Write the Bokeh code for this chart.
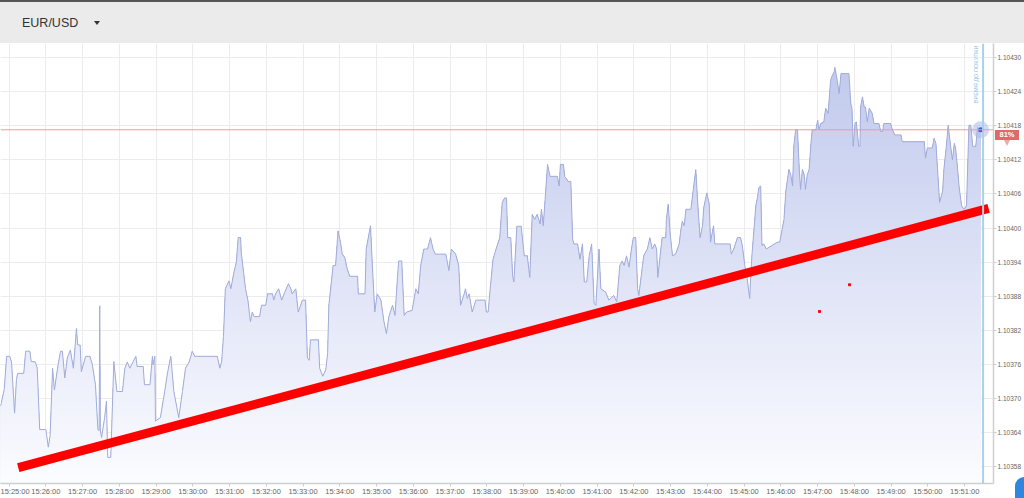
import numpy as np
from math import pi
from bokeh.plotting import figure
from bokeh.layouts import column
from bokeh.models import (Div, FixedTicker, NumeralTickFormatter, Span, Label,
                          GlobalInlineStyleSheet, Range1d)
from bokeh.embed import file_html
from bokeh.resources import INLINE

SYMBOL = "EUR/USD"
PURCHASE_TEXT = "ВРЕМЯ ДО ПОКУПКИ"
PAYOUT = "81%"

# seconds since 15:25:00
TIMES = [-14, -8, -4, 1, 4, 9, 12, 14, 24, 27, 34, 36, 43, 46, 50, 60, 64, 67, 71, 74,
         80, 84, 87, 91, 95, 100, 105, 110, 112, 116, 118, 125, 132, 136, 141, 145, 147, 148, 149, 151,
         156, 159, 161, 166, 171, 176, 185, 189, 193, 197, 207, 209, 219, 221, 230, 234, 235, 238, 239, 247,
         254, 259, 264, 269, 277, 283, 288, 294, 299, 303, 340, 344, 347, 350, 353, 359, 362, 367, 371, 374,
         378, 379, 386, 390, 394, 397, 400, 409, 412, 419, 422, 430, 432, 435, 440, 445, 449, 456, 460, 462,
         468, 472, 479, 484, 487, 490, 492, 505, 507, 512, 517, 520, 522, 529, 533, 537, 541, 544, 548, 552,
         556, 569, 570, 581, 583, 590, 593, 597, 601, 607, 612, 616, 620, 626, 630, 634, 636, 641, 645, 649,
         658, 664, 668, 672, 677, 683, 688, 692, 696, 713, 718, 722, 729, 734, 737, 743, 745, 748, 751, 756,
         762, 777, 779, 782, 786, 790, 795, 801, 805, 809, 812, 814, 819, 822, 824, 829, 836, 841, 846, 850,
         854, 858, 862, 867, 869, 872, 875, 879, 883, 895, 898, 900, 905, 907, 913, 917, 920, 922, 928, 932,
         936, 939, 943, 947, 951, 955, 958, 960, 963, 966, 974, 979, 987, 992, 997, 1001, 1004, 1008, 1012, 1016,
         1019, 1023, 1026, 1028, 1034, 1036, 1042, 1046, 1050, 1054, 1057, 1059, 1064, 1066, 1072, 1073, 1076, 1079, 1083, 1088,
         1094, 1096, 1099, 1102, 1105, 1113, 1117, 1121, 1125, 1128, 1132, 1134, 1139, 1143, 1145, 1150, 1152, 1177, 1179, 1183,
         1189, 1194, 1197, 1201, 1205, 1209, 1211, 1213, 1219, 1222, 1224, 1227, 1229, 1232, 1236, 1254, 1258, 1262, 1265, 1268,
         1271, 1273, 1276, 1279, 1281, 1284, 1287, 1290, 1292, 1295, 1298, 1300, 1303, 1306, 1309, 1311, 1317, 1320, 1322, 1325,
         1330, 1333, 1337, 1341, 1344, 1347, 1348, 1352, 1355, 1358, 1371, 1374, 1376, 1378, 1381, 1383, 1387, 1389, 1390, 1393,
         1396, 1398, 1401, 1404, 1409, 1412, 1420, 1423, 1426, 1428, 1439, 1442, 1446, 1456, 1458, 1494, 1496, 1499, 1507, 1510,
         1513, 1515, 1519, 1524, 1526, 1530, 1533, 1537, 1540, 1543, 1545, 1548, 1551, 1555, 1559, 1563, 1566, 1567, 1570, 1573,
         1578, 1581, 1583, 1586]

PRICES = [1.103686, 1.103715, 1.103774, 1.103774, 1.103764, 1.103674, 1.103733, 1.103744, 1.103744, 1.103783,
          1.103783, 1.103765, 1.103764, 1.103753, 1.103645, 1.103645, 1.103614, 1.103634, 1.103753, 1.103715,
          1.103759, 1.103783, 1.103783, 1.103736, 1.103771, 1.103785, 1.103753, 1.103823, 1.103794, 1.103794,
          1.103747, 1.103774, 1.103774, 1.103759, 1.103724, 1.103645, 1.103643, 1.103863, 1.103643, 1.103631,
          1.103666, 1.103695, 1.103596, 1.103596, 1.103765, 1.103712, 1.103712, 1.103753, 1.103764, 1.103753,
          1.103774, 1.103756, 1.103756, 1.103724, 1.103724, 1.103774, 1.103759, 1.103774, 1.103660, 1.103666,
          1.103712, 1.103747, 1.103774, 1.103712, 1.103666, 1.103712, 1.103753, 1.103764, 1.103783, 1.103774,
          1.103774, 1.103753, 1.103765, 1.103809, 1.103893, 1.103907, 1.103893, 1.103922, 1.103940, 1.103983,
          1.103983, 1.103957, 1.103893, 1.103872, 1.103835, 1.103852, 1.103844, 1.103844, 1.103864, 1.103864,
          1.103884, 1.103884, 1.103873, 1.103884, 1.103893, 1.103873, 1.103884, 1.103902, 1.103893, 1.103884,
          1.103893, 1.103852, 1.103873, 1.103873, 1.103771, 1.103767, 1.103803, 1.103803, 1.103753, 1.103739,
          1.103750, 1.103779, 1.103864, 1.103934, 1.103934, 1.103995, 1.103975, 1.103954, 1.103948, 1.103928,
          1.103915, 1.103915, 1.103884, 1.103884, 1.103963, 1.104004, 1.103934, 1.103852, 1.103884, 1.103873,
          1.103835, 1.103814, 1.103844, 1.103864, 1.103846, 1.103913, 1.103942, 1.103942, 1.103846, 1.103852,
          1.103855, 1.103893, 1.103884, 1.103934, 1.103963, 1.103963, 1.103983, 1.103963, 1.103954, 1.103954,
          1.103925, 1.103963, 1.103954, 1.103934, 1.103864, 1.103884, 1.103893, 1.103876, 1.103884, 1.103852,
          1.103873, 1.103873, 1.103852, 1.103852, 1.103900, 1.103945, 1.103963, 1.103983, 1.104045, 1.104053,
          1.104053, 1.103983, 1.103983, 1.103916, 1.103905, 1.104003, 1.104003, 1.103951, 1.103951, 1.103913,
          1.104024, 1.104015, 1.104024, 1.104007, 1.104033, 1.104004, 1.104050, 1.104112, 1.104091, 1.104091,
          1.104074, 1.104112, 1.104112, 1.104091, 1.104082, 1.104082, 1.103980, 1.103972, 1.103972, 1.103945,
          1.103972, 1.103905, 1.103905, 1.103951, 1.103972, 1.103867, 1.103864, 1.103905, 1.103963, 1.103893,
          1.103887, 1.103873, 1.103881, 1.103870, 1.103934, 1.103942, 1.103934, 1.103951, 1.103931, 1.103963,
          1.103983, 1.103983, 1.103893, 1.103881, 1.103934, 1.103951, 1.103963, 1.103983, 1.103963, 1.103972,
          1.103963, 1.103913, 1.103963, 1.103983, 1.103983, 1.104015, 1.104042, 1.103992, 1.103951, 1.103954,
          1.103972, 1.103992, 1.104012, 1.104004, 1.104033, 1.104033, 1.104068, 1.104103, 1.104030, 1.103983,
          1.104004, 1.104036, 1.104062, 1.104042, 1.103975, 1.104004, 1.103972, 1.103972, 1.103954, 1.103963,
          1.103983, 1.103983, 1.103969, 1.103934, 1.103910, 1.103876, 1.103922, 1.103957, 1.104039, 1.104056,
          1.104071, 1.104074, 1.103969, 1.103972, 1.103963, 1.103975, 1.103975, 1.103998, 1.104015, 1.104065,
          1.104088, 1.104103, 1.104094, 1.104074, 1.104144, 1.104173, 1.104173, 1.104103, 1.104068, 1.104103,
          1.104094, 1.104068, 1.104094, 1.104103, 1.104149, 1.104173, 1.104173, 1.104190, 1.104173, 1.104184,
          1.104187, 1.104211, 1.104202, 1.104260, 1.104269, 1.104275, 1.104283, 1.104260, 1.104237, 1.104272,
          1.104272, 1.104219, 1.104211, 1.104144, 1.104184, 1.104187, 1.104144, 1.104144, 1.104213, 1.104231,
          1.104213, 1.104213, 1.104187, 1.104211, 1.104202, 1.104184, 1.104184, 1.104170, 1.104170, 1.104184,
          1.104184, 1.104173, 1.104164, 1.104164, 1.104152, 1.104152, 1.104123, 1.104141, 1.104141, 1.104158,
          1.104149, 1.104115, 1.104045, 1.104065, 1.104103, 1.104144, 1.104181, 1.104144, 1.104120, 1.104149,
          1.104141, 1.104109, 1.104071, 1.104039, 1.104033, 1.104039, 1.104149, 1.104181, 1.104181, 1.104144,
          1.104144, 1.104178, 1.104170, 1.104173]

X_TICKS = [0, 60, 120, 180, 240, 300, 360, 420, 480, 540, 600, 660, 720, 780,
           840, 900, 960, 1020, 1080, 1140, 1200, 1260, 1320, 1380, 1440, 1500, 1560]
X_TICK_LABELS = ["15:25:00", "15:26:00", "15:27:00", "15:28:00", "15:29:00", "15:30:00",
                 "15:31:00", "15:32:00", "15:33:00", "15:34:00", "15:35:00", "15:36:00",
                 "15:37:00", "15:38:00", "15:39:00", "15:40:00", "15:41:00", "15:42:00",
                 "15:43:00", "15:44:00", "15:45:00", "15:46:00", "15:47:00", "15:48:00",
                 "15:49:00", "15:50:00", "15:51:00"]
Y_TICKS = [1.10358, 1.10364, 1.10370, 1.10376, 1.10382, 1.10388, 1.10394,
           1.10400, 1.10406, 1.10412, 1.10418, 1.10424, 1.10430]

X_START, X_END = -14, 1607
Y_START, Y_END = 1.10355, 1.104325

PURCHASE_T = 1590
TREND_T = [15, 1599]
TREND_P = [1.103578, 1.1040345]
MARK_T = [1323, 1372]
MARK_P = [1.103853, 1.103900]

FONT = "Liberation Sans"
HEADER_H = 43
FIG_H = 455

t = np.array(TIMES, dtype=float)
pr = np.array(PRICES)
last_t, last_p = TIMES[-1], PRICES[-1]

p = figure(width=1024, height=FIG_H, x_range=Range1d(X_START, X_END),
           y_range=Range1d(Y_START, Y_END), output_backend="svg",
           toolbar_location=None, y_axis_location="right",
           min_border_left=0, min_border_right=31, min_border_top=0, min_border_bottom=12,
           background_fill_color="white", border_fill_color="white",
           outline_line_color=None, margin=0)

# grid
p.xgrid.ticker = FixedTicker(ticks=X_TICKS)
p.ygrid.ticker = FixedTicker(ticks=Y_TICKS)
p.xgrid.grid_line_color = "#ececec"
p.ygrid.grid_line_color = "#ececec"

# axes
p.xaxis.ticker = FixedTicker(ticks=X_TICKS)
p.xaxis.major_label_overrides = {tk: lb for tk, lb in zip(X_TICKS, X_TICK_LABELS)}
p.yaxis.ticker = FixedTicker(ticks=Y_TICKS)
p.yaxis.formatter = NumeralTickFormatter(format="0.00000")
for ax in (p.xaxis[0], p.yaxis[0]):
    ax.axis_line_color = "#cfcfcf"
    ax.axis_line_width = 1.5
    ax.major_tick_line_color = "#cfcfcf"
    ax.major_tick_in = 0
    ax.major_tick_out = 3
    ax.minor_tick_line_color = None
    ax.major_label_text_color = "#666666"
    ax.major_label_text_font = FONT
    ax.major_label_standoff = 1
p.xaxis.major_label_text_font_size = "7.5px"
p.xaxis.major_label_standoff = 0
p.yaxis.major_label_text_font_size = "6.5px"

# gradient area fill built from bands
N = 60
levels = np.linspace(Y_START, Y_END, N + 1)
top_rgb = np.array([190, 199, 236])
bot_rgb = np.array([252, 252, 255])
pmax = pr.max()
for k in range(N, 0, -1):
    if levels[k - 1] >= pmax:
        continue
    frac = ((levels[k] + levels[k - 1]) / 2 - Y_START) / (Y_END - Y_START)
    rgb = (bot_rgb + (top_rgb - bot_rgb) * frac).round().astype(int)
    col = "#%02x%02x%02x" % tuple(rgb)
    p.varea(x=t, y1=Y_START, y2=np.minimum(pr, levels[k]), fill_color=col)

p.line(t, pr, line_color="#a1acd8", line_width=1)

# purchase-time line and current price line
p.add_layout(Span(location=PURCHASE_T, dimension="height", line_color="#a9d1ea", line_width=2))
p.add_layout(Span(location=last_p, dimension="width", line_color="#f09a9a", line_width=1))

# trend line drawn by user
p.line(TREND_T, TREND_P, line_color="#ff0000", line_width=9, line_cap="butt")
p.scatter(MARK_T, MARK_P, marker="square", size=2, color="#ff0000")

# current point
p.scatter([last_t], [last_p], size=17, fill_color="#a9bbef", fill_alpha=0.55, line_color=None)
p.scatter([last_t], [last_p], size=5, fill_color="#3a5fd4", line_color=None)

p.add_layout(Label(x=PURCHASE_T, y=Y_END, x_offset=-7, y_offset=-2, text=PURCHASE_TEXT,
                   angle=pi / 2, text_align="right", text_baseline="middle",
                   text_font=FONT, text_font_size="5.6px", text_color="#8cc0e0"))

# pixel position of the current price (for the payout badge placed over the axis area)
frame_h = FIG_H - 12
price_px = HEADER_H + (Y_END - last_p) / (Y_END - Y_START) * frame_h
inner_top = price_px - 2  # the header's inner box starts below its 2px top border

header_html = (
    '<div style="position:relative;width:1024px;height:41px;'
    'font-family:\'Liberation Sans\',Arial,sans-serif;">'
    '<span style="position:absolute;left:22px;top:13px;font-size:12.5px;color:#333;">'
    + SYMBOL + '</span>'
    '<span style="position:absolute;left:94px;top:19px;width:0;height:0;'
    'border-left:3px solid transparent;border-right:3px solid transparent;'
    'border-top:4px solid #333;"></span>'
    # payout badge
    '<div style="position:absolute;left:995px;top:%dpx;width:24px;height:10px;'
    'background:#e06a6a;color:#fff;font-weight:bold;font-size:7.5px;line-height:10px;'
    'text-align:center;">%s</div>'
    '<div style="position:absolute;left:1004px;top:%dpx;width:0;height:0;'
    'border-left:3.5px solid transparent;border-right:3.5px solid transparent;'
    'border-top:6px solid #f0a9a9;"></div>'
    # bottom-right button
    '<div style="position:absolute;left:1015px;top:475px;width:20px;height:30px;'
    'background:#2f86e0;border-radius:9px 0 0 0;"></div>'
    '</div>'
) % (round(inner_top), PAYOUT, round(inner_top + 10))

header = Div(text=header_html, width=1024, height=HEADER_H, margin=0,
             styles={"background-color": "#ebebeb", "border-top": "2px solid #555555",
                     "box-sizing": "border-box", "overflow": "visible", "z-index": "10",
                     "position": "relative"})

layout = column(header, p, margin=0, spacing=0,
                stylesheets=[GlobalInlineStyleSheet(css="html, body { margin: 0; padding: 0; overflow: hidden; }")])

open("out.html", "w").write(file_html(layout, INLINE))
